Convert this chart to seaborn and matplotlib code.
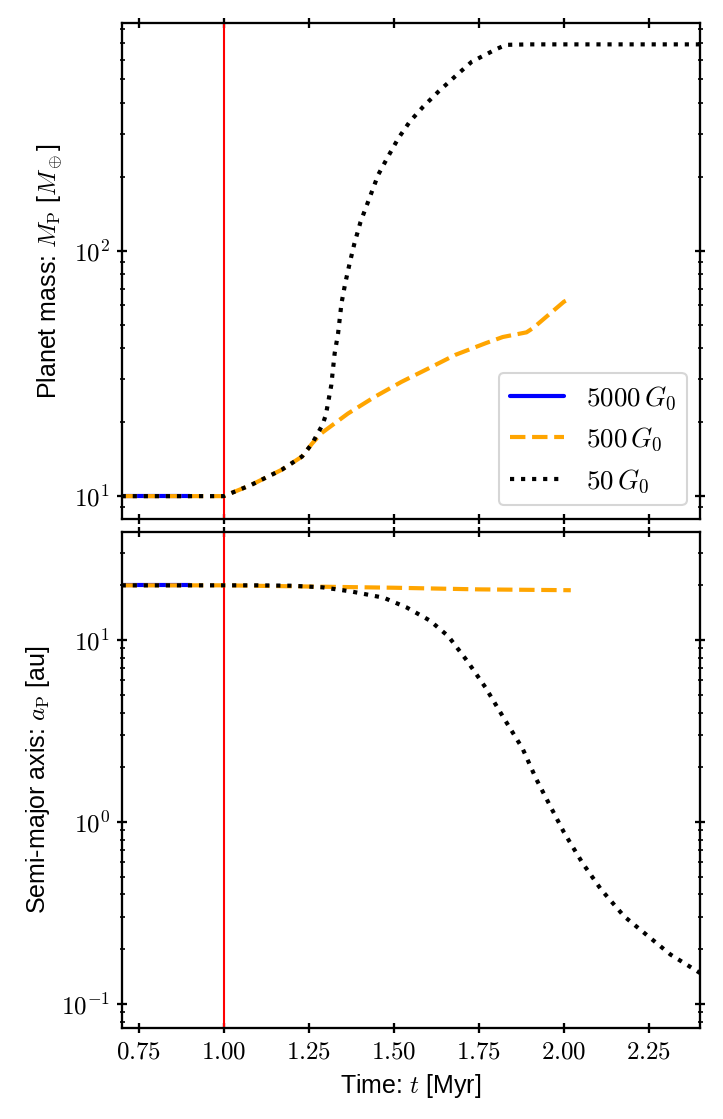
import numpy as np
import pandas as pd
import matplotlib
matplotlib.use("Agg")
import matplotlib.pyplot as plt
from matplotlib.ticker import FuncFormatter, LogLocator, NullFormatter
import seaborn as sns

# ------------------------------------------------------------------
# data (time in Myr)
# ------------------------------------------------------------------
labels = [r"$5000\,G_0$", r"$500\,G_0$", r"$50\,G_0$"]

# 5000 G0 : only the first short stretch
t_5000 = [0.70, 0.80, 0.90]
m_5000 = [10.0, 10.0, 10.0]
a_5000 = [20.0, 20.0, 20.0]

# 500 G0
t_m_500 = [0.70, 0.80, 0.90, 1.00, 1.08, 1.17, 1.23, 1.26, 1.286, 1.365, 1.444,
           1.522, 1.601, 1.68, 1.77, 1.82, 1.89, 1.91, 1.96, 2.00, 2.02]
m_500 = [10.0, 10.0, 10.0, 10.0, 11.1, 12.8, 14.5, 16.4, 18.0, 21.7, 25.4,
         29.2, 33.1, 37.6, 42.0, 44.5, 46.5, 48.5, 55.6, 62.0, 64.0]
t_a_500 = [0.70, 1.00, 1.25, 1.50, 1.75, 2.02]
a_500 = [20.0, 20.0, 19.7, 19.4, 19.0, 18.8]

# 50 G0
t_m_50 = [0.70, 0.80, 0.90, 1.00, 1.08, 1.17, 1.23, 1.26, 1.29, 1.30, 1.316,
          1.326, 1.336, 1.346, 1.357, 1.37, 1.384, 1.402, 1.424, 1.454, 1.483,
          1.513, 1.547, 1.586, 1.631, 1.68, 1.729, 1.778, 1.80, 1.83, 1.90,
          2.00, 2.20, 2.40]
m_50 = [10.0, 10.0, 10.0, 10.0, 11.1, 12.8, 14.5, 16.4, 19.5, 21.4, 28.3,
        38.2, 46.0, 61.0, 73.6, 88.8, 107, 131, 158, 204, 242,
        287, 336, 386, 445, 513, 589, 638, 662, 690, 693,
        693, 693, 693]
t_a_50 = [0.70, 0.80, 0.90, 1.00, 1.10, 1.20, 1.29, 1.375, 1.47, 1.538, 1.606,
          1.66, 1.715, 1.769, 1.823, 1.878, 1.918, 1.959, 2.00, 2.054, 2.109,
          2.177, 2.245, 2.313, 2.40]
a_50 = [20.0, 20.0, 20.0, 20.0, 20.0, 19.9, 19.5, 18.5, 17.1, 15.1, 12.8,
        10.5, 7.7, 5.5, 3.73, 2.54, 1.73, 1.23, 0.877, 0.597, 0.426,
        0.303, 0.238, 0.187, 0.148]

t_star = 1.0  # red marker line

# ------------------------------------------------------------------
# style
# ------------------------------------------------------------------
sns.set_style("ticks")
plt.rcParams["font.family"] = ["Liberation Sans", "DejaVu Sans"]
plt.rcParams["mathtext.fontset"] = "cm"
plt.rcParams["axes.linewidth"] = 1.1
plt.rcParams["axes.edgecolor"] = "black"
plt.rcParams["text.color"] = "black"
plt.rcParams["axes.labelcolor"] = "black"
plt.rcParams["xtick.color"] = "black"
plt.rcParams["ytick.color"] = "black"

fig = plt.figure(figsize=(723 / 150, 1119 / 150), dpi=150)
ax1 = fig.add_axes([0.1683, 0.5362, 0.8000, 0.4436])
ax2 = fig.add_axes([0.1683, 0.0816, 0.8000, 0.4432], sharex=ax1)

series = [
    (t_5000, m_5000, t_5000, a_5000, "blue", "-"),
    (t_m_500, m_500, t_a_500, a_500, "orange", "--"),
    (t_m_50, m_50, t_a_50, a_50, "black", ":"),
]

for (tm, m, ta, a, col, ls), lab in zip(series, labels):
    dfm = pd.DataFrame({"t": tm, "val": m})
    dfa = pd.DataFrame({"t": ta, "val": a})
    sns.lineplot(data=dfm, x="t", y="val", ax=ax1, color=col, linestyle=ls,
                 linewidth=2, label=lab, estimator=None)
    sns.lineplot(data=dfa, x="t", y="val", ax=ax2, color=col, linestyle=ls,
                 linewidth=2, estimator=None, legend=False)

for ax in (ax1, ax2):
    ax.axvline(t_star, color="red", linewidth=1.0, zorder=1)
    ax.set_yscale("log")
    ax.yaxis.set_major_locator(LogLocator(base=10))
    ax.yaxis.set_minor_locator(LogLocator(base=10, subs=np.arange(2, 10)))
    ax.yaxis.set_major_formatter(FuncFormatter(lambda v, p: r"$10^{%d}$" % round(np.log10(v))))
    ax.yaxis.set_minor_formatter(NullFormatter())
    ax.tick_params(which="both", direction="inout", top=True, right=True)
    ax.tick_params(which="major", length=4.5, width=1.1, labelsize=12)
    ax.tick_params(which="minor", length=2.4, width=0.8)

ax1.set_xlim(0.7, 2.4)
ax1.set_ylim(8.07, 850)
ax2.set_ylim(0.0741, 39.4)
ax1.set_xticks([0.75, 1.00, 1.25, 1.50, 1.75, 2.00, 2.25])
ax2.xaxis.set_major_formatter(FuncFormatter(lambda v, p: r"$%.2f$" % v))
ax1.tick_params(labelbottom=False)

ax1.set_xlabel("")
ax1.set_ylabel(r"Planet mass: $M_{\rm P}$ [$M_\oplus$]", fontsize=12)
ax2.set_ylabel(r"Semi-major axis: $a_{\rm P}$ [au]", fontsize=12)
ax2.set_xlabel(r"Time: $t$ [Myr]", fontsize=12)

leg = ax1.legend(loc="lower right", fontsize=13, frameon=True, fancybox=True)
leg.get_frame().set_edgecolor("0.8")

fig.savefig("out.png", dpi=150)
